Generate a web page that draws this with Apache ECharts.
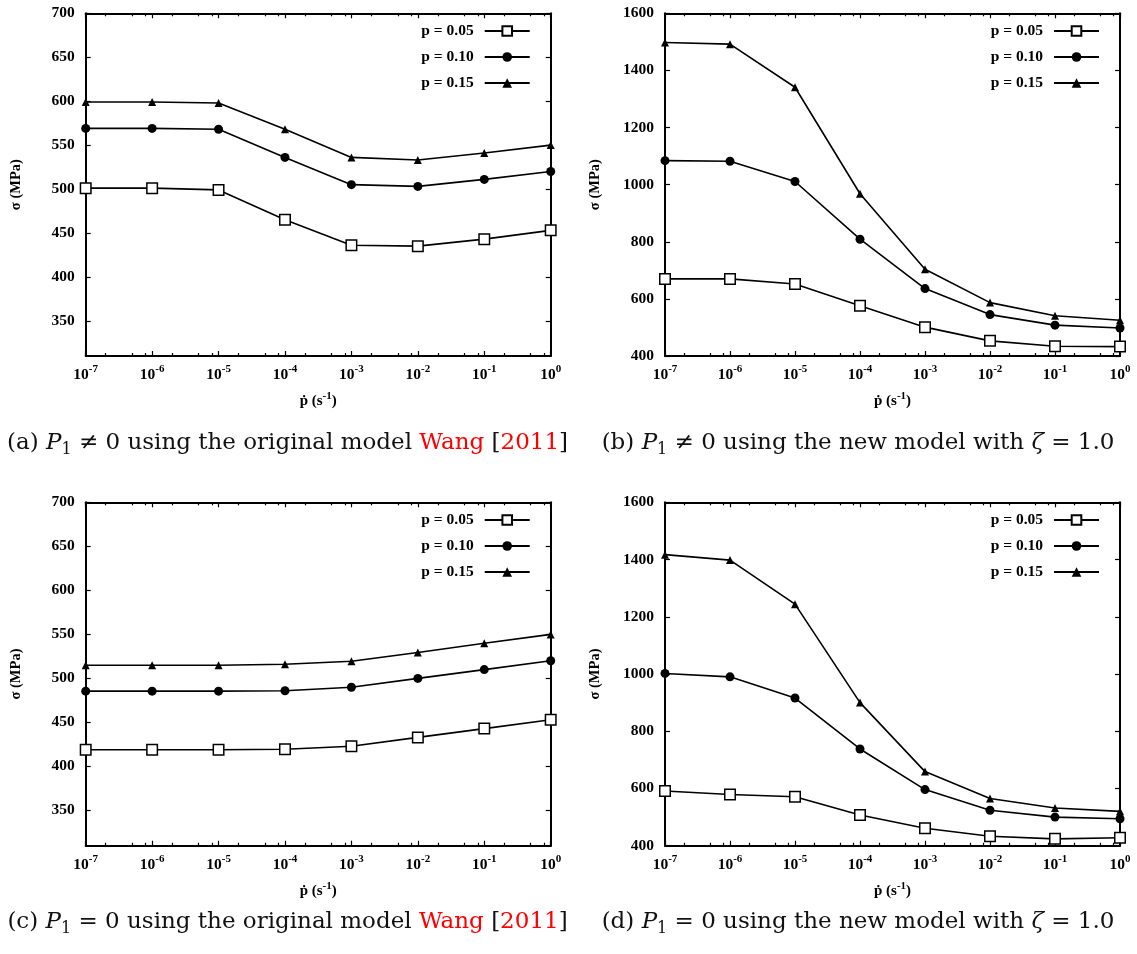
<!DOCTYPE html>
<html><head><meta charset="utf-8">
<script src="https://cdn.jsdelivr.net/npm/echarts@6/dist/echarts.min.js"></script>
<style>html,body{margin:0;padding:0;background:#fff}#c{width:1137px;height:954px}</style>
</head><body><div id="c"></div>
<script>
// ---------- data ----------
const rates = [1e-7, 1e-6, 1e-5, 1e-4, 1e-3, 1e-2, 1e-1, 1];
const seriesNames = ['p = 0.05', 'p = 0.10', 'p = 0.15'];

const a_p005 = [501, 501, 499, 465, 436, 435, 443, 453];
const a_p010 = [569, 569, 568, 536, 505, 503, 511, 520];
const a_p015 = [599, 599, 598, 568, 536, 533, 541, 550];

const b_p005 = [670, 670, 652, 576, 501, 453, 434, 433];
const b_p010 = [1084, 1082, 1011, 809, 636, 545, 508, 498];
const b_p015 = [1498, 1492, 1341, 968, 704, 587, 541, 525];

const c_p005 = [419, 419, 419, 419.5, 423, 433, 443, 453];
const c_p010 = [485.5, 485.5, 485.5, 486, 490, 500, 510, 520];
const c_p015 = [515, 515, 515, 516, 519.5, 529.5, 540, 550];

const d_p005 = [591, 579, 571, 507, 461, 433, 424, 428];
const d_p010 = [1002, 990, 916, 738, 596, 524, 500, 494];
const d_p015 = [1417, 1398, 1244, 900, 659, 565, 532, 520];

const yTicksLeft = [350, 400, 450, 500, 550, 600, 650, 700];
const yTicksRight = [400, 600, 800, 1000, 1200, 1400, 1600];
const minorMultipliers = [2, 5, 8];

const captionA = '{n|(a) }{i|P}{s|1}{n| ≠ 0 using the original model }{r|Wang}{n| [}{r|2011}{n|]}';
const captionB = '{n|(b) }{i|P}{s|1}{n| ≠ 0 using the new model with }{i|ζ}{n| = 1.0}';
const captionC = '{n|(c) }{i|P}{s|1}{n| = 0 using the original model }{r|Wang}{n| [}{r|2011}{n|]}';
const captionD = '{n|(d) }{i|P}{s|1}{n| = 0 using the new model with }{i|ζ}{n| = 1.0}';

// ---------- layout ----------
const FONT = 'Liberation Serif';
const panels = [
  { grid: { left: 85.7, top: 13.3, width: 465, height: 342.7 }, ymin: 310, ymax: 700, yticks: yTicksLeft,
    data: [a_p005, a_p010, a_p015], legendRight: 606.3, legendTop: 23 },
  { grid: { left: 665, top: 13.3, width: 455, height: 342.7 }, ymin: 400, ymax: 1600, yticks: yTicksRight,
    data: [b_p005, b_p010, b_p015], legendRight: 37, legendTop: 23 },
  { grid: { left: 85.7, top: 502.3, width: 465, height: 343.4 }, ymin: 310, ymax: 700, yticks: yTicksLeft,
    data: [c_p005, c_p010, c_p015], legendRight: 606.3, legendTop: 512 },
  { grid: { left: 665, top: 502.3, width: 455, height: 343.4 }, ymin: 400, ymax: 1600, yticks: yTicksRight,
    data: [d_p005, d_p010, d_p015], legendRight: 37, legendTop: 512 }
];

const minorExp = [];
for (let d = -7; d < 0; d++) minorMultipliers.forEach(m => minorExp.push(d + Math.log10(m)));

const lineCol = '#000';
const axisLine = { show: true, onZero: false, lineStyle: { color: lineCol, width: 2 } };
const tickStyle = { color: lineCol, width: 1.2 };
const labelFont = { fontFamily: FONT, fontWeight: 'bold', fontSize: 15.5, color: '#000' };

const symbols = [
  { symbol: 'rect', symbolSize: 10.5, itemStyle: { color: '#fff', borderColor: '#000', borderWidth: 1.5 } },
  { symbol: 'circle', symbolSize: 9, itemStyle: { color: '#000', borderColor: '#000', borderWidth: 0 } },
  { symbol: 'triangle', symbolSize: 8, itemStyle: { color: '#000', borderColor: '#000', borderWidth: 0 } }
];

const grids = [], xAxes = [], yAxes = [], series = [], legends = [];

panels.forEach((p, i) => {
  grids.push(Object.assign({ containLabel: false }, p.grid));
  xAxes.push({
    type: 'log', logBase: 10, gridIndex: i, min: 1e-7, max: 1, interval: 1, position: 'bottom',
    axisLine: axisLine, axisTick: { inside: true, length: 5, lineStyle: tickStyle },
    splitLine: { show: false },
    axisLabel: {
      margin: 8,
      formatter: v => '{b|10}{e|' + Math.round(Math.log10(v)) + '}',
      rich: {
        b: { fontFamily: FONT, fontWeight: 'bold', fontSize: 15.5, lineHeight: 22, color: '#000' },
        e: { fontFamily: FONT, fontWeight: 'bold', fontSize: 11, lineHeight: 12, verticalAlign: 'top', color: '#000' }
      }
    },
    name: '{b|ṗ (s}{e|-1}{b|)}', nameLocation: 'middle', nameGap: 35,
    nameTextStyle: {
      rich: {
        b: { fontFamily: FONT, fontWeight: 'bold', fontSize: 15, lineHeight: 20, color: '#000' },
        e: { fontFamily: FONT, fontWeight: 'bold', fontSize: 11, lineHeight: 12, verticalAlign: 'top', color: '#000' }
      }
    }
  });
  xAxes.push({
    type: 'log', logBase: 10, gridIndex: i, min: 1e-7, max: 1, interval: 1, position: 'top',
    axisLine: axisLine, axisTick: { inside: true, length: 5, lineStyle: tickStyle },
    axisLabel: { show: false }, splitLine: { show: false }
  });
  ['bottom', 'top'].forEach(pos => {
    xAxes.push({
      type: 'value', gridIndex: i, min: -7, max: 0, position: pos,
      axisLine: { show: false },
      axisTick: { inside: true, length: 3, lineStyle: tickStyle, customValues: minorExp },
      axisLabel: { show: false, customValues: minorExp }, splitLine: { show: false }
    });
  });
  yAxes.push({
    type: 'value', gridIndex: i, min: p.ymin, max: p.ymax, position: 'left',
    axisLine: axisLine,
    axisTick: { inside: true, length: 5, lineStyle: tickStyle, customValues: p.yticks },
    axisLabel: Object.assign({ margin: 11, customValues: p.yticks, formatter: v => String(v) }, labelFont),
    splitLine: { show: false },
    name: 'σ (MPa)', nameLocation: 'middle', nameGap: 62, nameRotate: 90,
    nameTextStyle: { fontFamily: FONT, fontWeight: 'bold', fontSize: 14.5, color: '#000' }
  });
  yAxes.push({
    type: 'value', gridIndex: i, min: p.ymin, max: p.ymax, position: 'right',
    axisLine: axisLine,
    axisTick: { inside: true, length: 5, lineStyle: tickStyle, customValues: p.yticks },
    axisLabel: { show: false, customValues: p.yticks }, splitLine: { show: false }
  });
  p.data.forEach((vals, k) => {
    series.push(Object.assign({
      type: 'line', name: seriesNames[k], xAxisIndex: i * 4, yAxisIndex: i * 2,
      data: rates.map((r, j) => [r, vals[j]]),
      lineStyle: { color: '#000', width: 1.6 }, emphasis: { disabled: true }, silent: true, z: 3
    }, symbols[k]));
  });
  legends.push({
    data: seriesNames, orient: 'vertical', align: 'right', right: p.legendRight, top: p.legendTop,
    padding: 0, itemWidth: 45, itemHeight: 12, itemGap: 10, selectedMode: false,
    formatter: n => '{t|' + n + '}',
    textStyle: { rich: { t: { fontFamily: FONT, fontWeight: 'bold', fontSize: 15.5, color: '#000', padding: [0, 6, 0, 0] } } }
  });
});

const CAPF = 'DejaVu Serif';
const capRich = {
  n: { fontFamily: CAPF, fontSize: 23, lineHeight: 30, fill: '#111' },
  i: { fontFamily: CAPF, fontStyle: 'italic', fontSize: 23, lineHeight: 30, fill: '#111' },
  s: { fontFamily: CAPF, fontSize: 16, lineHeight: 16, verticalAlign: 'bottom', fill: '#111' },
  r: { fontFamily: CAPF, fontSize: 23, lineHeight: 30, fill: '#ff0000' }
};
const caps = [[captionA, 287.5, 443], [captionB, 858, 443], [captionC, 287.5, 922], [captionD, 858, 922]];

const chart = echarts.init(document.getElementById('c'), null, { renderer: 'canvas' });
chart.setOption({
  animation: false,
  backgroundColor: '#fff',
  grid: grids, xAxis: xAxes, yAxis: yAxes, series: series, legend: legends,
  graphic: caps.map(c => ({
    type: 'text', x: c[1], y: c[2], silent: true,
    style: { text: c[0], rich: capRich, align: 'center', verticalAlign: 'middle', fontFamily: CAPF, fontSize: 23 }
  }))
});
</script></body></html>
